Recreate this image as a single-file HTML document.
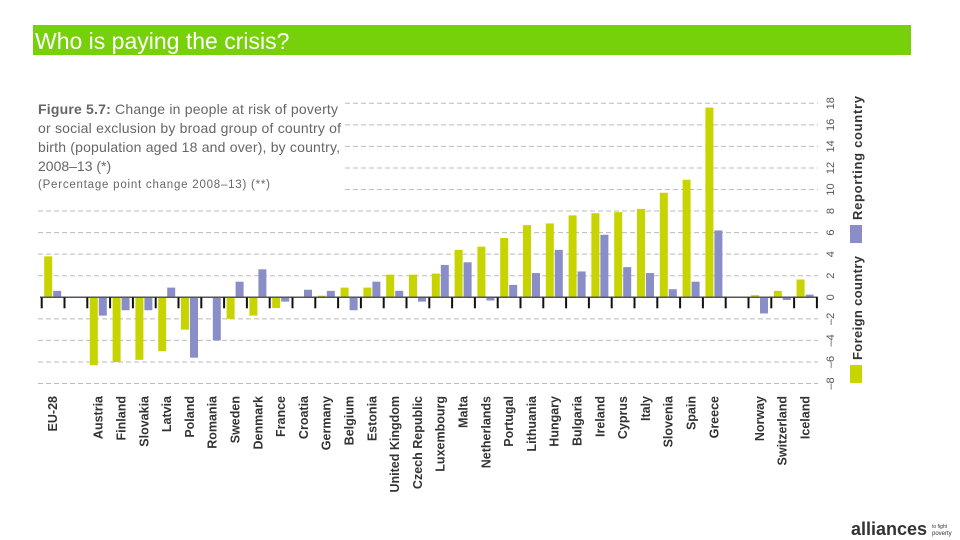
<!DOCTYPE html>
<html><head><meta charset="utf-8"><style>
body{margin:0;background:#fff;width:960px;height:540px;overflow:hidden;position:relative;font-family:"Liberation Sans",sans-serif}
#title{position:absolute;left:33px;top:25px;width:878px;height:30px;background:#77d10a;color:#fff;font-size:23px;line-height:33px;padding-left:2px;box-sizing:border-box}
svg{position:absolute;left:0;top:0}
</style></head><body>
<div id="title">Who is paying the crisis?</div>
<svg id="c" width="960" height="540">
<text x="38" y="114" font-size="14" fill="#666" font-weight="bold" textLength="300">Figure 5.7:<tspan font-weight="normal"> Change in people at risk of poverty</tspan></text>
<text x="38" y="133" font-size="14" fill="#666" textLength="303">or social exclusion by broad group of country of</text>
<text x="38" y="152" font-size="14" fill="#666" textLength="302">birth (population aged 18 and over), by country,</text>
<text x="38" y="171" font-size="14" fill="#666">2008–13 (*)</text>
<text x="38" y="188" font-size="11.5" fill="#666" textLength="232">(Percentage point change 2008–13) (**)</text>
<text x="851" y="535" font-size="18" font-weight="bold" fill="#333">alliances</text>
<text x="932" y="528" font-size="5" fill="#333">to fight</text>
<text x="932" y="535" font-size="6" fill="#333">poverty</text>
</svg>
<script>
const countries=["EU-28","","Austria","Finland","Slovakia","Latvia","Poland","Romania","Sweden","Denmark","France","Croatia","Germany","Belgium","Estonia","United Kingdom","Czech Republic","Luxembourg","Malta","Netherlands","Portugal","Lithuania","Hungary","Bulgaria","Ireland","Cyprus","Italy","Slovenia","Spain","Greece","","Norway","Switzerland","Iceland"];
const foreign=[3.8,null,-6.3,-6.0,-5.8,-5.0,-3.0,0,-2.0,-1.7,-1.0,0,0.15,0.9,0.9,2.1,2.1,2.2,4.4,4.7,5.5,6.7,6.85,7.6,7.8,7.9,8.2,9.7,10.9,17.6,null,0.2,0.6,1.65];
const reporting=[0.6,null,-1.7,-1.2,-1.2,0.9,-5.6,-4.0,1.45,2.6,-0.4,0.7,0.6,-1.2,1.45,0.6,-0.4,3.0,3.25,-0.3,1.15,2.25,4.4,2.4,5.8,2.8,2.25,0.75,1.45,6.2,null,-1.5,-0.25,0.25];
const ticks=[-8,-6,-4,-2,0,2,4,6,8,10,12,14,16,18];
const svg=document.getElementById('c');const NS="http://www.w3.org/2000/svg";
const x0=41.7,sw=22.8,zeroY=297.3,unit=10.78;
const y=v=>zeroY-v*unit;
const sx=i=>x0+i*sw;
function el(t,a){const e=document.createElementNS(NS,t);for(const k in a)e.setAttribute(k,a[k]);svg.appendChild(e);return e;}
ticks.forEach(t=>{if(t===0)return;const gy=y(t);
const g=el('line',{x1:t>=10?345:38,x2:818,y1:gy,y2:gy,stroke:'#bbb','stroke-width':1,'stroke-dasharray':'5,3'});


const tl=el('text',{x:0,y:0,'font-size':11,fill:'#555','text-anchor':'middle',transform:`translate(834,${gy}) rotate(-90)`});
tl.textContent=t<0?'–'+(-t):t;


});
const zt=el('text',{x:0,y:0,'font-size':11,fill:'#555','text-anchor':'middle',transform:`translate(834,${zeroY}) rotate(-90)`});zt.textContent='0';


countries.forEach((c,i)=>{
if(foreign[i]!==null){const v=foreign[i];const b=el('rect',{x:sx(i)+2.5,y:Math.min(y(v),zeroY),width:8,height:Math.abs(y(v)-zeroY),fill:'#c8d400'});

}
if(reporting[i]!==null){const v=reporting[i];const b=el('rect',{x:sx(i)+11.5,y:Math.min(y(v),zeroY),width:8,height:Math.abs(y(v)-zeroY),fill:'#8a8ec8'});

}
if(c){const t=el('text',{x:0,y:0,'font-size':12.5,fill:'#333','font-weight':'bold','text-anchor':'end','transform':`translate(${sx(i)+sw/2+4},396) rotate(-90)`});t.textContent=c;

}
});
const ax=el('line',{x1:40,x2:818,y1:zeroY,y2:zeroY,stroke:'#555','stroke-width':1.5});


for(let i=0;i<=countries.length;i++){const tk=el('line',{x1:sx(i),x2:sx(i),y1:zeroY,y2:zeroY+11,stroke:'#111','stroke-width':2});

}
const ls1=el('rect',{x:850,y:225,width:12,height:18,fill:'#8a8ec8'});


const lt1=el('text',{x:0,y:0,'font-size':13,'font-weight':'bold',fill:'#333','text-anchor':'end',textLength:124,transform:'translate(862,96) rotate(-90)'});lt1.textContent='Reporting country';


const ls2=el('rect',{x:850,y:365,width:12,height:18,fill:'#c8d400'});


const lt2=el('text',{x:0,y:0,'font-size':13,'font-weight':'bold',fill:'#333','text-anchor':'end',textLength:104,transform:'translate(862,256) rotate(-90)'});lt2.textContent='Foreign country';


</script>
</body></html>
